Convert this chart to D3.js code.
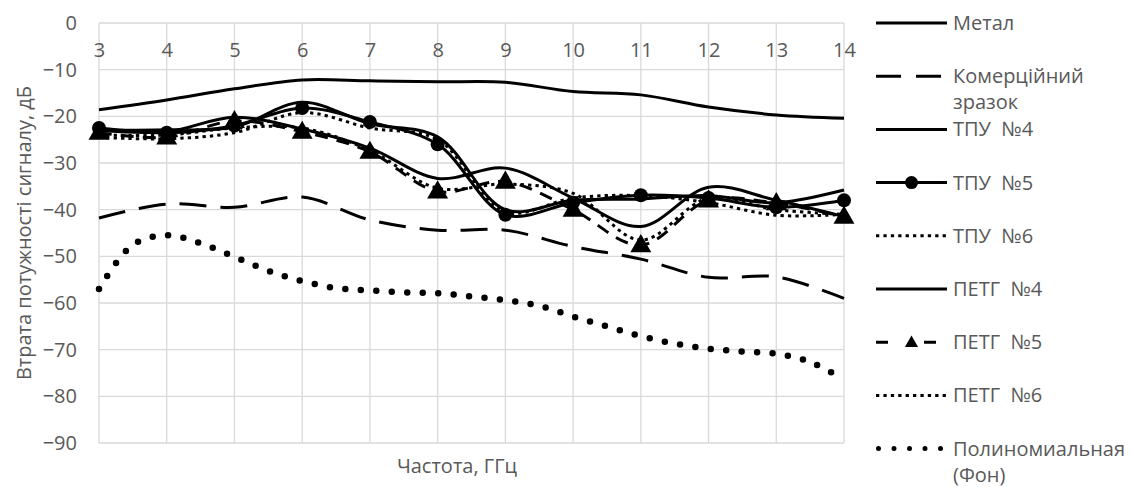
<!DOCTYPE html>
<html>
<head>
<meta charset="utf-8">
<script src="https://cdn.jsdelivr.net/npm/d3@7"></script>
<style>
  body { margin: 0; background: #fff; }
  text { font-family: "Open Sans", sans-serif; fill: #595959; }
</style>
</head>
<body>
<div id="chart"></div>
<script>
// частоти, ГГц
const freqs = [3, 4, 5, 6, 7, 8, 9, 10, 11, 12, 13, 14];
const yTicks = [0, -10, -20, -30, -40, -50, -60, -70, -80, -90];

const metal      = [-18.6, -16.5, -14.1, -12.2, -12.4, -12.6, -12.7, -14.7, -15.4, -18.0, -19.7, -20.4];
const commercial = [-41.8, -38.8, -39.5, -37.3, -42.2, -44.4, -44.4, -47.9, -50.6, -54.5, -54.4, -59.0];
const tpu4  = [-23.0, -22.9, -22.3, -17.0, -21.6, -24.4, -40.0, -38.0, -37.7, -37.0, -38.5, -35.8];
const tpu5  = [-22.5, -23.5, -22.0, -18.2, -21.2, -26.0, -41.1, -38.5, -36.9, -37.5, -39.5, -38.0];
const tpu6  = [-24.5, -24.8, -23.5, -19.2, -22.5, -25.0, -40.5, -37.5, -37.0, -38.5, -41.2, -41.0];
const petg4 = [-23.0, -23.3, -20.2, -22.7, -26.8, -33.3, -31.1, -37.5, -43.6, -35.2, -38.0, -41.5];
const petg5 = [-23.5, -24.5, -21.0, -23.3, -27.6, -36.1, -34.0, -40.0, -47.6, -38.0, -38.6, -41.5];
const petg6 = [-24.0, -24.0, -22.5, -22.5, -27.3, -35.4, -34.5, -36.5, -46.5, -37.5, -40.0, -41.0];

// поліноміальний тренд фону, знятий з графіка через пів ГГц
const trendFreqs  = [3, 3.5, 4, 4.5, 5, 5.5, 6, 6.5, 7, 7.5, 8, 8.5, 9, 9.5, 10, 10.5, 11, 11.5, 12, 12.5, 13, 13.5, 14];
const trendValues = [-57.0, -47.5, -45.5, -47.2, -50.1, -53.1, -55.3, -56.8, -57.3, -57.7, -57.9, -58.6, -59.4,
                     -60.6, -62.9, -65.0, -67.1, -68.7, -69.8, -70.4, -70.9, -72.6, -76.5];

const seriesNames = ["Метал", "Комерційний\nзразок", "ТПУ  №4", "ТПУ  №5", "ТПУ  №6",
                     "ПЕТГ  №4", "ПЕТГ  №5", "ПЕТГ  №6", "Полиномиальная\n(Фон)"];
const seriesValues = [metal, commercial, tpu4, tpu5, tpu6, petg4, petg5, petg6];

// стилі ліній
const styles = [
    { dash: null },
    { dash: "27 14", legendDash: "25 15" },
    { dash: null },
    { dash: null, marker: "circle" },
    { dash: "3.3 4.1" },
    { dash: null },
    { dash: "13 9", legendDash: "12 36", marker: "triangle" },
    { dash: "3.3 4.1" },
    { dash: "0 15.5", cap: "round", width: 6.5, legendWidth: 5 }
];

const width = 1132;
const height = 487;

const x = d3.scaleLinear().domain([3, 14]).range([99, 844]);
const y = d3.scaleLinear().domain([-90, 0]).range([443, 23]);

const svg = d3.select("#chart").append("svg")
    .attr("width", width)
    .attr("height", height);

// сітка
svg.append("g").selectAll("line")
    .data(yTicks)
    .enter().append("line")
    .attr("x1", x(3)).attr("x2", x(14))
    .attr("y1", d => y(d)).attr("y2", d => y(d))
    .attr("stroke", "#d9d9d9").attr("stroke-width", 1.3);

svg.append("g").selectAll("line")
    .data(freqs)
    .enter().append("line")
    .attr("x1", d => x(d)).attr("x2", d => x(d))
    .attr("y1", y(0)).attr("y2", y(-90))
    .attr("stroke", "#d9d9d9").attr("stroke-width", 1.3);

// осі
const yAxis = svg.append("g")
    .attr("transform", `translate(${x(3)},0)`)
    .call(d3.axisLeft(y).tickValues(yTicks).tickSize(0).tickPadding(22));
yAxis.select(".domain").remove();
yAxis.selectAll("text").style("font-size", "20px").attr("fill", "#595959");

const xAxis = svg.append("g")
    .attr("transform", `translate(0,${y(0)})`)
    .call(d3.axisBottom(x).tickValues(freqs).tickFormat(d3.format("d")).tickSize(0).tickPadding(20));
xAxis.select(".domain").remove();
xAxis.selectAll("text").style("font-size", "20px").attr("fill", "#595959");

svg.append("text")
    .attr("transform", `translate(24,${y(-45)}) rotate(-90)`)
    .attr("text-anchor", "middle")
    .attr("dy", "0.35em")
    .style("font-size", "20px")
    .text("Втрата потужності сигналу, дБ");

svg.append("text")
    .attr("x", 457).attr("y", 466)
    .attr("text-anchor", "middle")
    .attr("dy", "0.35em")
    .style("font-size", "20px")
    .text("Частота, ГГц");

const line = d3.line()
    .x(d => x(d[0]))
    .y(d => y(d[1]))
    .curve(d3.curveCatmullRom);

const plot = svg.append("g");

// тренд фону
plot.append("path")
    .datum(d3.zip(trendFreqs, trendValues))
    .attr("d", line)
    .attr("fill", "none")
    .attr("stroke", "#000")
    .attr("stroke-width", styles[8].width)
    .attr("stroke-linecap", "round")
    .attr("stroke-dasharray", styles[8].dash);

seriesValues.forEach((vals, i) => {
    const st = styles[i];
    const pts = d3.zip(freqs, vals);
    plot.append("path")
        .datum(pts)
        .attr("d", line)
        .attr("fill", "none")
        .attr("stroke", "#000")
        .attr("stroke-width", 3)
        .attr("stroke-dasharray", st.dash);

    if (st.marker === "circle") {
        plot.append("g").selectAll("circle")
            .data(pts)
            .enter().append("circle")
            .attr("cx", d => x(d[0])).attr("cy", d => y(d[1]))
            .attr("r", 7)
            .attr("fill", "#000");
    }
    if (st.marker === "triangle") {
        plot.append("g").selectAll("path")
            .data(pts)
            .enter().append("path")
            .attr("transform", d => `translate(${x(d[0])},${y(d[1]) + 1})`)
            .attr("d", d3.symbol(d3.symbolTriangle, 190))
            .attr("fill", "#000");
    }
});

// легенда
const legend = svg.append("g");
seriesNames.forEach((name, i) => {
    const st = styles[i];
    const ly = 23 + i * 53.2;
    legend.append("line")
        .attr("x1", 876).attr("x2", 947)
        .attr("y1", ly).attr("y2", ly)
        .attr("stroke", "#000")
        .attr("stroke-width", st.legendWidth || 3)
        .attr("stroke-linecap", st.cap || "butt")
        .attr("stroke-dasharray", st.legendDash || st.dash)
        .attr("stroke-dashoffset", i === 8 ? -2.5 : 0);
    if (st.marker === "circle") {
        legend.append("circle").attr("cx", 911.5).attr("cy", ly).attr("r", 6.5).attr("fill", "#000");
    }
    if (st.marker === "triangle") {
        legend.append("path")
            .attr("transform", `translate(911.5,${ly + 1})`)
            .attr("d", d3.symbol(d3.symbolTriangle, 75))
            .attr("fill", "#000");
    }
    // кожен рядок підпису окремим текстом
    name.split("\n").forEach((part, k) => {
        legend.append("text")
            .attr("x", 953)
            .attr("y", ly + k * 26)
            .attr("dy", "0.35em")
            .style("font-size", "20px")
            .style("white-space", "pre")
            .text(part);
    });
});
</script>
</body>
</html>
